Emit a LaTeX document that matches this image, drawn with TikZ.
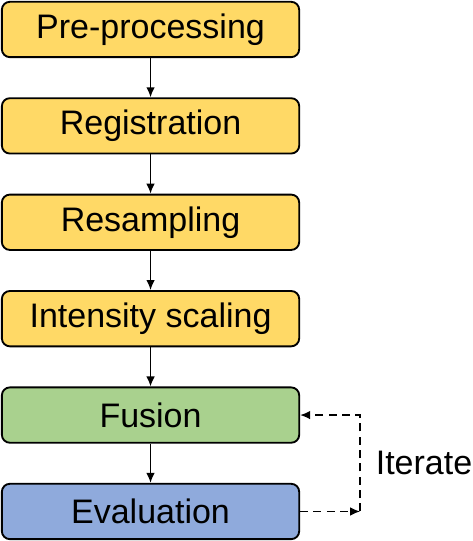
\documentclass[tikz,border=0pt]{standalone}
\usepackage{fontspec}
\setmainfont{Liberation Sans}
\usepackage{tikz}
\usetikzlibrary{positioning, arrows.meta}

\definecolor{stepyellow}{HTML}{FFD966}
\definecolor{stepgreen}{HTML}{A9D18E}
\definecolor{stepblue}{HTML}{8FAADC}

\begin{document}
\begin{tikzpicture}[node distance=29.4pt,
    box/.style={draw, line width=1.4pt, rounded corners=6pt, minimum width=223pt, minimum height=41.5pt, font=\fontsize{25.5pt}{29pt}\selectfont, inner sep=0pt},
    >={Latex[length=7.5pt,width=6.5pt]}, line width=1.2pt]
   \useasboundingbox (0,0) rectangle (354.75pt,-405.75pt);
   \node[box, fill=stepyellow] (0) at (112.9pt,-22.1pt) {Pre-processing};
   \node[box, fill=stepyellow] (1) [below=of 0] {Registration};
   \node[box, fill=stepyellow] (2) [below=of 1] {Resampling};
   \node[box, fill=stepyellow] (3) [below=of 2] {Intensity scaling};
   \node[box, fill=stepgreen] (4) [below=of 3] {Fusion};
   \node[box, fill=stepblue] (5) [below=of 4] {Evaluation};
   \coordinate[right=45pt of 5.east] (c);
   \node[font=\fontsize{25.5pt}{29pt}\selectfont] (6) at (318pt,-347.25pt) {Iterate};
   \path[->]
    (0) edge (1)
    (1) edge (2)
    (2) edge (3)
    (3) edge (4)
    (4) edge (5);
   \draw[->, dash pattern=on 6pt off 4pt] (5.east) -- (c);
   \draw[->, dash pattern=on 6pt off 4pt] (c) |- (4.east);
\end{tikzpicture}
\end{document}
